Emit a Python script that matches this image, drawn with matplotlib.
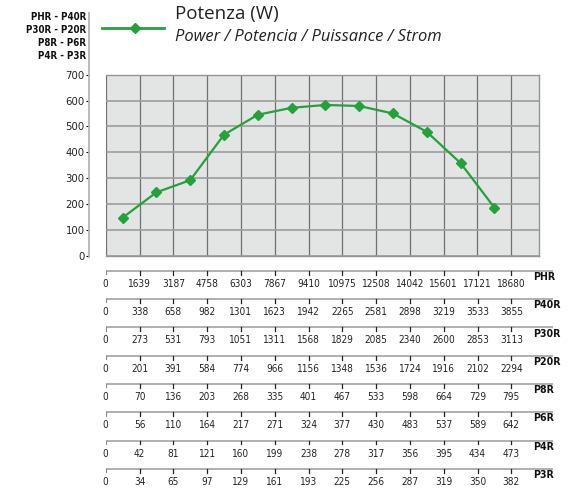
import matplotlib
matplotlib.use('Agg')
import matplotlib.pyplot as plt
from matplotlib.lines import Line2D

W, H, DPI = 578, 488, 100

# ---- data ----
power = [147, 245, 292, 468, 545, 572, 583, 579, 550, 479, 358, 186]
y_ticks = [0, 100, 200, 300, 400, 500, 600, 700]
header_labels = ["PHR - P40R", "P30R - P20R", "P8R - P6R", "P4R - P3R"]
models = ["PHR", "P40R", "P30R", "P20R", "P8R", "P6R", "P4R", "P3R"]
phr_flow = [0, 1639, 3187, 4758, 6303, 7867, 9410, 10975, 12508, 14042, 15601, 17121, 18680]
p40r_flow = [0, 338, 658, 982, 1301, 1623, 1942, 2265, 2581, 2898, 3219, 3533, 3855]
p30r_flow = [0, 273, 531, 793, 1051, 1311, 1568, 1829, 2085, 2340, 2600, 2853, 3113]
p20r_flow = [0, 201, 391, 584, 774, 966, 1156, 1348, 1536, 1724, 1916, 2102, 2294]
p8r_flow = [0, 70, 136, 203, 268, 335, 401, 467, 533, 598, 664, 729, 795]
p6r_flow = [0, 56, 110, 164, 217, 271, 324, 377, 430, 483, 537, 589, 642]
p4r_flow = [0, 42, 81, 121, 160, 199, 238, 278, 317, 356, 395, 434, 473]
p3r_flow = [0, 34, 65, 97, 129, 161, 193, 225, 256, 287, 319, 350, 382]
flow_rows = [phr_flow, p40r_flow, p30r_flow, p20r_flow, p8r_flow, p6r_flow, p4r_flow, p3r_flow]
title = "Potenza (W)"
subtitle = "Power / Potencia / Puissance / Strom"

GREEN = "#24a23a"
NARROW_PROPS = dict(family=["DejaVu Sans"], stretch="condensed")
TITLEF = ["Open Sans", "DejaVu Sans"]

fig = plt.figure(figsize=(W / DPI, H / DPI), dpi=DPI)
fig.patch.set_facecolor("white")

def fx(px):
    return px / W

def fy(py):
    return 1 - py / H

# ---- main plot ----
L, R, T, B = 105.7, 539.3, 74.7, 255.7
ax = fig.add_axes([fx(L), fy(B), fx(R - L), (B - T) / H])
ax.set_facecolor("#e3e4e4")
unit = 33.8
ax.set_xlim(0, (R - L) / unit)
ax.set_ylim(0, 700)
ax.set_xticks(range(13))
ax.set_yticks(y_ticks)
ax.tick_params(axis="x", bottom=False, labelbottom=False)
ax.tick_params(axis="y", length=2.3, width=0.8, color="black", pad=0.8,
               labelsize=7.3, labelcolor="#222222")
for lab in ax.get_yticklabels():
    lab.set_family(NARROW_PROPS["family"])
    lab.set_stretch("condensed")
ax.xaxis.grid(True, color="#707070", lw=0.9)
ax.yaxis.grid(True, color="#9c9c9c", lw=1.2)
ax.set_axisbelow(True)
ax.spines["left"].set_position(("outward", 12))
ax.spines["left"].set_visible(False)
for s in ["top", "right", "bottom"]:
    ax.spines[s].set_color("#959595")
    ax.spines[s].set_linewidth(1.0)

xs = [i + 0.5 for i in range(len(power))]
ax.plot(xs, power, color=GREEN, lw=1.6, marker="D", ms=5, mec=GREEN, mfc=GREEN, clip_on=False)

# long y axis line
fig.add_artist(Line2D([fx(89), fx(89)], [fy(13), fy(257)], color="#b4b4b4", lw=1.3))

# ---- header labels ----
for i, lab in enumerate(header_labels):
    fig.text(fx(86), fy(16.5 + 13.3 * i), lab, ha="right", va="center",
             fontsize=7.0, fontweight="bold", color="#111111", **NARROW_PROPS)

# ---- legend ----
fig.add_artist(Line2D([fx(102), fx(164)], [fy(27.7), fy(27.7)], color=GREEN, lw=2.0))
fig.add_artist(Line2D([fx(135)], [fy(27.7)], color=GREEN, marker="D", ms=5, lw=0))
fig.text(fx(175), fy(19.5), title, ha="left", va="baseline", fontsize=13.5,
         family=TITLEF, color="#222222")
fig.text(fx(175), fy(40.7), subtitle, ha="left", va="baseline", fontsize=11.9,
         family=TITLEF, style="italic", color="#222222")

# ---- flow tables ----
rowh = 28.3
top_line = 270.7
tb_top = top_line - rowh / 2
tb_bot = tb_top + rowh * 8
tR = 560
tx = fig.add_axes([fx(L), fy(tb_bot), fx(tR - L), (tb_bot - tb_top) / H])
tx.set_xlim(0, (tR - L) / unit)
tx.set_ylim(7.5, -0.5)
tx.axis("off")
line_end = (553 - L) / unit
for i, (name, vals) in enumerate(zip(models, flow_rows)):
    tx.plot([0, line_end], [i, i], color="#9a9a9a", lw=1.1, solid_capstyle="butt")
    for j, v in enumerate(vals):
        if j == 0:
            tx.plot([j + 0.02, j + 0.02], [i, i + 0.12], color="#888888", lw=0.8)
        else:
            tx.plot([j, j], [i, i + 0.14], color="#222222", lw=0.9)
        tx.text(j, i + 0.46, str(v), ha="center", va="center", fontsize=7.2,
                color="#222222", **NARROW_PROPS)
    tx.text((532.7 - L) / unit, i + 0.22, name, ha="left", va="center", fontsize=7.6,
            fontweight="bold", color="#111111", **NARROW_PROPS)

fig.savefig("out.png", dpi=DPI, facecolor="white")
